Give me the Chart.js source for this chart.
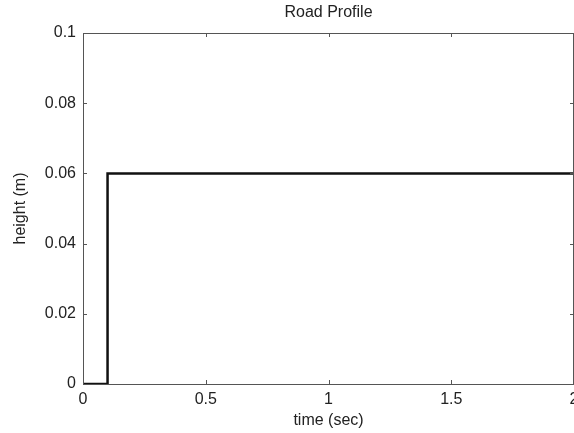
<!DOCTYPE html>
<html>
<head>
<meta charset="utf-8">
<style>
  html, body { margin: 0; padding: 0; background: #fff; }
  #wrap { width: 574px; height: 433px; }
</style>
<script src="https://cdn.jsdelivr.net/npm/chart.js@4/dist/chart.umd.min.js"></script>
</head>
<body>
<div id="wrap"><canvas id="roadChart" width="574" height="433"></canvas></div>
<script>
const time = [0, 0.1, 0.1, 2];
const height = [0, 0, 0.06, 0.06];
const xTicks = [0, 0.5, 1, 1.5, 2];
const yTicks = [0, 0.02, 0.04, 0.06, 0.08, 0.1];

const FONT = "'Liberation Sans', Arial, sans-serif";
const AXIS_COLOR = '#555';
const TEXT_COLOR = '#222';
const fmt = v => String(Math.round(v * 100) / 100);

// MATLAB-ish box with inward ticks on all four sides + title over the plot area
const boxPlugin = {
  id: 'box',
  afterDraw(chart) {
    const { ctx, chartArea: a, scales } = chart;
    ctx.save();
    ctx.strokeStyle = AXIS_COLOR;
    ctx.lineWidth = 1;
    ctx.strokeRect(a.left + 0.5, a.top + 0.5, a.right - a.left - 1, a.bottom - a.top);
    ctx.beginPath();
    xTicks.forEach(v => {
      const x = Math.round(scales.x.getPixelForValue(v)) + 0.5;
      ctx.moveTo(x, a.bottom); ctx.lineTo(x, a.bottom - 4);
      ctx.moveTo(x, a.top); ctx.lineTo(x, a.top + 4);
    });
    yTicks.forEach(v => {
      const y = Math.round(scales.y.getPixelForValue(v)) + 0.5;
      ctx.moveTo(a.left, y); ctx.lineTo(a.left + 4, y);
      ctx.moveTo(a.right, y); ctx.lineTo(a.right - 4, y);
    });
    ctx.stroke();
    ctx.fillStyle = TEXT_COLOR;
    ctx.font = '16px ' + FONT;
    ctx.textAlign = 'center';
    ctx.textBaseline = 'middle';
    ctx.fillText('Road Profile', (a.left + a.right) / 2, 13);
    ctx.restore();
  }
};

new Chart(document.getElementById('roadChart'), {
  type: 'scatter',
  data: {
    datasets: [{
      data: time.map((t, i) => ({ x: t, y: height[i] })),
      showLine: true,
      borderColor: '#111',
      borderWidth: 2.5,
      pointRadius: 0,
      fill: false
    }]
  },
  options: {
    responsive: false,
    animation: false,
    layout: { padding: { top: 33, right: 0, left: 0, bottom: 0 } },
    plugins: { legend: { display: false }, tooltip: { enabled: false }, title: { display: false } },
    scales: {
      x: {
        type: 'linear',
        min: 0, max: 2,
        afterBuildTicks: s => { s.ticks = xTicks.map(v => ({ value: v })); },
        afterFit: s => { s.height = 49; s.paddingLeft = 0; s.paddingRight = 0; },
        grid: { display: false, drawTicks: false },
        border: { display: false },
        ticks: { color: TEXT_COLOR, font: { family: FONT, size: 16 }, padding: 6, maxRotation: 0, autoSkip: false,
                 callback: fmt },
        title: { display: true, text: 'time (sec)', color: TEXT_COLOR, font: { family: FONT, size: 16 }, padding: { top: 0, bottom: 3 } }
      },
      y: {
        min: 0, max: 0.1,
        afterBuildTicks: s => { s.ticks = yTicks.map(v => ({ value: v })); },
        afterFit: s => { s.width = 83; s.paddingTop = 0; s.paddingBottom = 0; },
        grid: { display: false, drawTicks: false },
        border: { display: false },
        ticks: { color: TEXT_COLOR, font: { family: FONT, size: 16 }, padding: 7, autoSkip: false,
                 callback: fmt },
        title: { display: true, text: 'height (m)', color: TEXT_COLOR, font: { family: FONT, size: 16 }, padding: { top: 11, bottom: 0 } }
      }
    }
  },
  plugins: [boxPlugin]
});
</script>
</body>
</html>
